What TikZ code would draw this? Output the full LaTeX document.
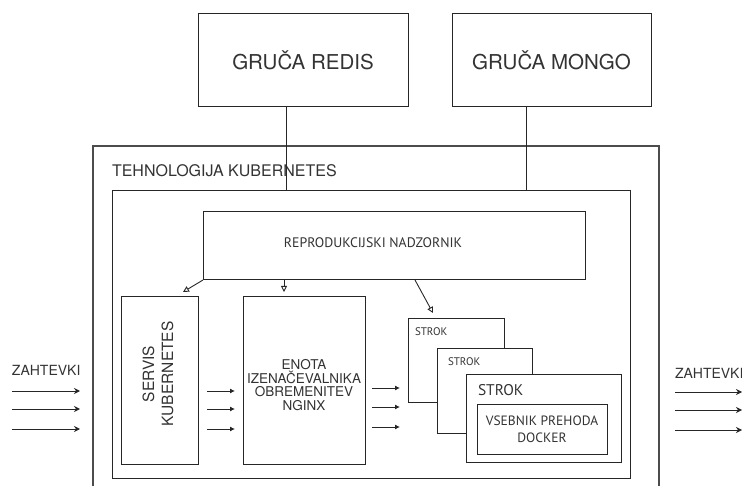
\documentclass[tikz,border=0pt]{standalone}
\usepackage{fontspec}
\setmainfont{TeX Gyre Heros}
\newfontfamily\myriad{PT Sans}
\usetikzlibrary{arrows.meta}

\begin{document}
\begin{tikzpicture}[x=1pt,y=-1pt,
  box/.style={draw=black!85, line width=1pt, inner sep=0pt, outer sep=0pt, fill=white, text=black!80},
  txt/.style={inner sep=0pt, outer sep=0pt, text=black!80},
  ctrlarrow/.style={-{Triangle[open,length=6pt,width=6pt]}, line width=0.9pt, draw=black!85},
  reqarrow/.style={-{Stealth[length=6pt,width=6pt,inset=2pt]}, line width=0.9pt, draw=black!85},
  fwdarrow/.style={-{Latex[length=5pt,width=5pt]}, line width=0.9pt, draw=black!85}]
\useasboundingbox (0,0) rectangle (742,486);

% top clusters
\node[box, minimum width=210pt, minimum height=93pt, font=\fontsize{20.5}{24}\selectfont] (redis) at (303,60.5) {GRUČA REDIS};
\node[box, minimum width=199pt, minimum height=93pt, font=\fontsize{20.5}{24}\selectfont] (mongo) at (551.5,60.5) {GRUČA MONGO};

% kubernetes frame
\draw[draw=black!70, line width=1.2pt] (93,495) |- (659,146) -- (659,495);
\node[txt, anchor=west, font=\fontsize{16}{19}\selectfont] (kubetext) at (112,171) {TEHNOLOGIJA KUBERNETES};
\node[box, fill=none, minimum width=518pt, minimum height=287pt] (cluster) at (371,334.5) {};

\draw[line width=1pt, draw=black!85] ([xshift=-17pt]redis.south) -- ([xshift=-17pt]redis.south |- cluster.north);
\draw[line width=1pt, draw=black!85] ([xshift=-25.5pt]mongo.south) -- ([xshift=-25.5pt]mongo.south |- cluster.north);

% replication controller
\node[box, minimum width=382pt, minimum height=68pt] (ctrl) at (394,246) {};
\node[txt, font=\myriad\fontsize{13.8}{16}\selectfont] (ctrltext) at (373,243) {REPRODUKCIJSKI NADZORNIK};

% service and load balancer
\node[box, minimum width=77pt, minimum height=167pt] (servis) at (159.5,380.5) {};
\node[txt, rotate=90, align=center, font=\fontsize{15.5}{19}\selectfont] (servistext) at (158,374) {SERVIS\\KUBERNETES};
\node[box, minimum width=122pt, minimum height=167pt] (nginx) at (304,380.5) {};
\node[txt, align=center, font=\fontsize{13.5}{13.5}\selectfont] (nginxtext) at (304,385) {ENOTA\\IZENAČEVALNIKA\\OBREMENITEV\\NGINX};

% pods
\node[box, minimum width=96pt, minimum height=83pt] (strok1) at (456,360.5) {};
\node[txt, anchor=west, font=\myriad\fontsize{11}{13}\selectfont] (strok1text) at (415,332) {STROK};
\node[box, minimum width=95pt, minimum height=84pt] (strok2) at (484.5,391) {};
\node[txt, anchor=west, font=\myriad\fontsize{11}{13}\selectfont] (strok2text) at (448,362) {STROK};
\node[box, minimum width=155pt, minimum height=87pt] (strok3) at (543.5,418.5) {};
\node[txt, anchor=west, font=\myriad\fontsize{15.5}{18}\selectfont] (strok3text) at (478,390) {STROK};
\node[box, minimum width=130pt, minimum height=50pt, align=center, font=\myriad\fontsize{13.5}{17}\selectfont] (docker) at (542,429) {VSEBNIK PREHODA\\DOCKER};

% arrows from the controller
\coordinate (toservis) at (183,292);
\coordinate (tonginx) at (284,292);
\coordinate (tostrok) at (433,313);
\draw[ctrlarrow] (ctrl.south west) -- (toservis);
\draw[ctrlarrow] (tonginx |- ctrl.south) -- (tonginx);
\draw[ctrlarrow] (415,280) -- (tostrok);

% requests
\node[txt, anchor=west, font=\fontsize{14}{17}\selectfont] (reqin) at (12,370) {ZAHTEVKI};
\node[txt, anchor=west, font=\fontsize{14}{17}\selectfont] (reqout) at (675,373) {ZAHTEVKI};
\foreach \y [count=\i] in {391,409,429} {
  \coordinate (inA\i) at (12,\y);
  \coordinate (inB\i) at (80,\y);
  \draw[reqarrow] (inA\i) -- (inB\i);
  \coordinate (svA\i) at (207,\y);
  \coordinate (svB\i) at (235,\y);
  \draw[fwdarrow] (svA\i) -- (svB\i);
  \coordinate (outA\i) at (675,\y+1);
  \coordinate (outB\i) at (742,\y+1);
  \draw[reqarrow] (outA\i) -- (outB\i);
}
\foreach \y [count=\i] in {388,407,427} {
  \coordinate (lbA\i) at (372,\y);
  \coordinate (lbB\i) at (400,\y);
  \draw[fwdarrow] (lbA\i) -- (lbB\i);
}
\end{tikzpicture}
\end{document}
